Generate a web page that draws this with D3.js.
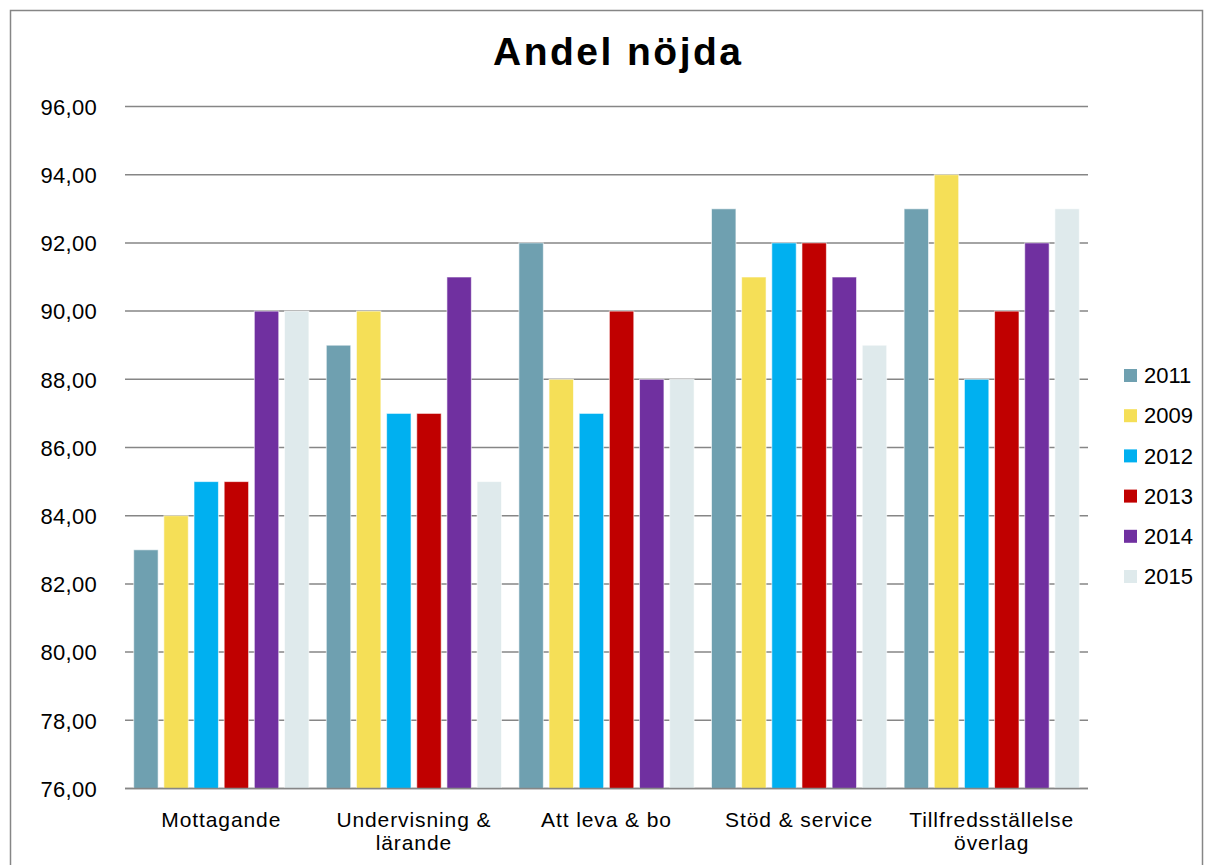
<!DOCTYPE html>
<html>
<head>
<meta charset="utf-8">
<script src="https://cdn.jsdelivr.net/npm/d3@7"></script>
<style>
  html, body { margin: 0; padding: 0; background: #fff; }
  svg { display: block; font-family: Arial, "Liberation Sans", sans-serif; }
</style>
</head>
<body>
<svg id="chart" width="1205" height="865"></svg>
<script>
const title = "Andel nöjda";
const categories = ["Mottagande", "Undervisning & lärande", "Att leva & bo", "Stöd & service", "Tillfredsställelse överlag"];
const categoryLines = [["Mottagande"], ["Undervisning &", "lärande"], ["Att leva & bo"], ["Stöd & service"], ["Tillfredsställelse", "överlag"]];
const seriesNames = ["2011", "2009", "2012", "2013", "2014", "2015"];
const seriesColors = ["#6FA0B0", "#F5DF57", "#00B0F0", "#C00000", "#7030A0", "#DFEAEC"];
const s2011 = [83, 89, 92, 93, 93];
const s2009 = [84, 90, 88, 91, 94];
const s2012 = [85, 87, 87, 92, 88];
const s2013 = [85, 87, 90, 92, 90];
const s2014 = [90, 91, 88, 91, 92];
const s2015 = [90, 85, 88, 89, 93];
const seriesValues = [s2011, s2009, s2012, s2013, s2014, s2015];
const yTicks = [76, 78, 80, 82, 84, 86, 88, 90, 92, 94, 96];
const yDomain = [76, 96];

(function () {
const svg = d3.select("#chart");

// outer border
svg.append("rect")
  .attr("x", 10.5).attr("y", 10.5)
  .attr("width", 1192).attr("height", 870)
  .attr("fill", "none").attr("stroke", "#868686").attr("stroke-width", 1.5);

const pLeft = 125, pRight = 1088, pTop = 106.5, pBottom = 788.5;

const x0 = d3.scaleBand().domain(categories).range([pLeft, pRight]).paddingInner(0).paddingOuter(0);
const bw = x0.bandwidth();
const x1 = d3.scaleBand().domain(seriesNames).range([8.7, bw - 8.7]).paddingInner(0.19).paddingOuter(0);
const y = d3.scaleLinear().domain(yDomain).range([pBottom, pTop]);

// gridlines
svg.append("g").selectAll("line").data(yTicks).join("line")
  .attr("x1", pLeft).attr("x2", pRight)
  .attr("y1", d => y(d)).attr("y2", d => y(d))
  .attr("stroke", "#868686").attr("stroke-width", 1.5);

// y axis labels
const yAxis = d3.axisLeft(y).tickValues(yTicks).tickSize(0).tickPadding(0)
  .tickFormat(d => d3.format(".2f")(d).replace(".", ","));
const ya = svg.append("g").attr("transform", `translate(97,0)`).call(yAxis);
ya.select(".domain").remove();
ya.selectAll("text").attr("font-size", 22).attr("fill", "#000")
  .attr("font-family", "Arial, 'Liberation Sans', sans-serif").attr("dy", "0.35em")
  .attr("letter-spacing", "0.3px");

// bars
const groups = svg.append("g").selectAll("g").data(categories).join("g")
  .attr("transform", d => `translate(${x0(d)},0)`);
groups.selectAll("rect")
  .data((c, ci) => seriesNames.map((s, si) => ({ s, si, v: seriesValues[si][ci] })))
  .join("rect")
  .attr("x", d => x1(d.s))
  .attr("width", x1.bandwidth())
  .attr("y", d => y(d.v))
  .attr("height", d => y(yDomain[0]) - y(d.v))
  .attr("fill", d => seriesColors[d.si])
  .attr("stroke", "rgba(255,255,255,0.6)").attr("stroke-width", 1);

// bottom axis line
svg.append("line").attr("x1", pLeft).attr("x2", pRight)
  .attr("y1", y(yDomain[0])).attr("y2", y(yDomain[0]))
  .attr("stroke", "#868686").attr("stroke-width", 1.5);

// category labels
const cl = svg.append("g").selectAll("text").data(categories).join("text")
  .attr("x", d => x0(d) + bw / 2)
  .attr("y", 826.5)
  .attr("text-anchor", "middle")
  .attr("font-size", 21)
  .attr("letter-spacing", "0.9px")
  .attr("fill", "#000");
cl.each(function (d, i) {
  const t = d3.select(this);
  categoryLines[i].forEach((line, li) => {
    t.append("tspan").attr("x", x0(d) + bw / 2).attr("dy", li === 0 ? 0 : 23.5).text(line);
  });
});

// title
svg.append("text")
  .attr("x", 617).attr("y", 64.5)
  .attr("text-anchor", "middle")
  .attr("font-size", 39).attr("font-weight", "bold")
  .attr("textLength", 248).attr("lengthAdjust", "spacing")
  .attr("fill", "#000")
  .text(title);

// legend
const legend = svg.append("g").selectAll("g").data(seriesNames).join("g")
  .attr("transform", (d, i) => `translate(1124, ${375.5 + i * 40.2})`);
legend.append("rect").attr("x", 0).attr("y", -6.5).attr("width", 13).attr("height", 13)
  .attr("fill", (d, i) => seriesColors[i]);
legend.append("text").attr("x", 20).attr("y", 0).attr("dy", "0.35em")
  .attr("font-size", 22).attr("fill", "#000").text(d => d);
})();
</script>
</body>
</html>
